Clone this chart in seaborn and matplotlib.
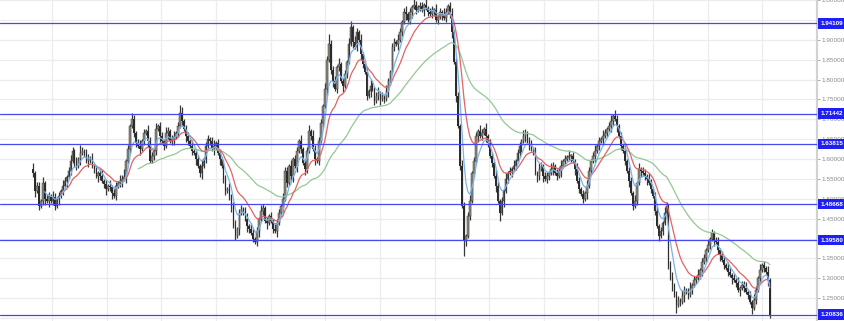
import numpy as np
import pandas as pd
import matplotlib
matplotlib.use("Agg")
import matplotlib.pyplot as plt
import seaborn as sns

# ---------------- data ----------------
first_open = 1.575
close = [
    1.565, 1.520, 1.5325, 1.4825, 1.495, 1.540, 1.500, 1.495, 1.5075, 1.495,
    1.505, 1.4825, 1.500, 1.5075, 1.520, 1.5325, 1.545, 1.555, 1.570, 1.595,
    1.620, 1.590, 1.5825, 1.600, 1.615, 1.620, 1.615, 1.595, 1.6025, 1.600,
    1.5825, 1.575, 1.5575, 1.565, 1.5575, 1.545, 1.5375, 1.525, 1.5325, 1.530,
    1.515, 1.5075, 1.5325, 1.540, 1.545, 1.550, 1.555, 1.595, 1.625, 1.6825,
    1.700, 1.665, 1.640, 1.6325, 1.625, 1.645, 1.665, 1.670, 1.645, 1.595,
    1.6075, 1.620, 1.675, 1.6825, 1.6575, 1.645, 1.6325, 1.665, 1.670, 1.645,
    1.650, 1.655, 1.665, 1.6825, 1.715, 1.695, 1.675, 1.6575, 1.645, 1.6325,
    1.620, 1.615, 1.600, 1.5825, 1.565, 1.5825, 1.600, 1.6325, 1.650, 1.645,
    1.625, 1.6325, 1.640, 1.615, 1.600, 1.5825, 1.550, 1.520, 1.525, 1.5075,
    1.4825, 1.4325, 1.4075, 1.425, 1.465, 1.475, 1.470, 1.450, 1.4325, 1.425,
    1.415, 1.400, 1.390, 1.420, 1.450, 1.470, 1.4775, 1.445, 1.440, 1.4575,
    1.445, 1.425, 1.420, 1.440, 1.465, 1.4825, 1.500, 1.570, 1.540, 1.5825,
    1.5575, 1.600, 1.5825, 1.620, 1.645, 1.625, 1.590, 1.575, 1.620, 1.670,
    1.6575, 1.625, 1.600, 1.595, 1.645, 1.690, 1.7325, 1.775, 1.850, 1.890,
    1.825, 1.795, 1.775, 1.8325, 1.840, 1.795, 1.7825, 1.815, 1.845, 1.890,
    1.9325, 1.895, 1.8825, 1.920, 1.900, 1.865, 1.840, 1.820, 1.7575, 1.770,
    1.7825, 1.775, 1.745, 1.7575, 1.765, 1.750, 1.7575, 1.750, 1.770, 1.795,
    1.820, 1.8825, 1.895, 1.890, 1.900, 1.920, 1.945, 1.970, 1.965, 1.950,
    1.970, 1.9825, 1.9875, 1.975, 1.9825, 1.985, 1.975, 1.9875, 1.980, 1.970,
    1.965, 1.975, 1.975, 1.950, 1.9575, 1.970, 1.965, 1.955, 1.970, 1.985,
    1.965, 1.920, 1.845, 1.7575, 1.6825, 1.5825, 1.4825, 1.395, 1.4075, 1.4575,
    1.495, 1.565, 1.595, 1.6575, 1.670, 1.6575, 1.665, 1.675, 1.6575, 1.640,
    1.6075, 1.590, 1.5575, 1.5325, 1.495, 1.465, 1.495, 1.520, 1.550, 1.565,
    1.570, 1.575, 1.5825, 1.595, 1.615, 1.6325, 1.645, 1.6575, 1.665, 1.645,
    1.6325, 1.625, 1.620, 1.565, 1.5575, 1.575, 1.5825, 1.5575, 1.550, 1.5575,
    1.565, 1.575, 1.5825, 1.565, 1.5575, 1.570, 1.5825, 1.595, 1.600, 1.605,
    1.6075, 1.6075, 1.595, 1.575, 1.545, 1.525, 1.5125, 1.500, 1.515, 1.5325,
    1.570, 1.595, 1.6075, 1.620, 1.6325, 1.645, 1.650, 1.6575, 1.665, 1.675,
    1.6825, 1.695, 1.7075, 1.700, 1.6825, 1.6575, 1.6325, 1.620, 1.595, 1.570,
    1.545, 1.515, 1.4825, 1.495, 1.540, 1.575, 1.570, 1.565, 1.5575, 1.550,
    1.540, 1.525, 1.5075, 1.470, 1.4325, 1.4075, 1.420, 1.440, 1.465, 1.4825,
    1.3325, 1.300, 1.2825, 1.2575, 1.2325, 1.245, 1.240, 1.255, 1.270, 1.265,
    1.2575, 1.275, 1.2825, 1.295, 1.300, 1.3075, 1.320, 1.340, 1.350, 1.370,
    1.3825, 1.400, 1.415, 1.395, 1.390, 1.370, 1.3575, 1.345, 1.3325, 1.325,
    1.315, 1.3075, 1.300, 1.295, 1.2875, 1.270, 1.275, 1.2825, 1.275, 1.265,
    1.2575, 1.240, 1.225, 1.245, 1.270, 1.300, 1.320, 1.3325, 1.325, 1.315,
    1.295, 1.205,
]
# upper / lower wick lengths, in steps of wick_step
wick_step = 0.005
up_wicks = (
    "31221312213212132123" "21314212213121231213" "12213241213212312132"
    "21312213212312431221" "31221312212312213213" "12312212313212132121"
    "21322132213122131223" "13212213252231312213" "31321312213212312132"
    "12213212312132122131" "22131213212312213212" "31221321312213212131"
    "21312213212312132122" "13212231213121321213" "21231213212313212131"
    "22131312213212312132" "12312213212312131221" "31212312213212131223"
    "121321312131"
)
down_wicks = (
    "23121231312213121312" "12213121321213212312" "31212313121221312131"
    "12213121312312121321" "21312312121321312212" "31213121321212312131"
    "12131231212313121321" "21312121312312213121" "13121321213121231213"
    "21213121312312121312" "12312131212313121831" "21213121321213141312"
    "13121231312121321312" "21312131212313121213" "12131213121321312121"
    "31212131231212131213" "21314121312131212312" "12131231212131213121"
    "213121312131"
)
levels = [1.94109, 1.71442, 1.63815, 1.48668, 1.39580, 1.20836]
yticks = [1.20, 1.25, 1.30, 1.35, 1.40, 1.45, 1.50, 1.55, 1.60, 1.65,
          1.70, 1.75, 1.80, 1.85, 1.90, 1.95, 2.00]
ma_fast, ma_mid, ma_slow = 6, 15, 53

# ---------------- frame ----------------
n = len(close)
df = pd.DataFrame({"bar": np.arange(n), "close": close})
df["open"] = [first_open] + close[:-1]
up = np.array([int(c) for c in up_wicks[:n]]) * wick_step
dn = np.array([int(c) for c in down_wicks[:n]]) * wick_step
df["high"] = np.maximum(df["open"], df["close"]) + up
df["low"] = np.minimum(df["open"], df["close"]) - dn
df["fast"] = df["close"].ewm(span=ma_fast, adjust=False).mean()
df["mid"] = df["close"].ewm(span=ma_mid, adjust=False).mean()
df["slow"] = df["close"].ewm(span=ma_slow, adjust=False).mean()
df.loc[df.index < ma_fast, "fast"] = np.nan
df.loc[df.index < ma_mid - 1, "mid"] = np.nan
df.loc[df.index < ma_slow, "slow"] = np.nan

sns.set_theme(style="white")
plt.rcParams["font.family"] = ["Liberation Sans", "DejaVu Sans"]
fig = plt.figure(figsize=(8.45, 3.21), dpi=100)
ax = fig.add_axes([0, 0, 817 / 845, 1])

# pixel layout: first bar at 33px, last bar at 775px, axes 817px wide
step = 742 / (n - 1)
x0 = -33 / step
ax.set_xlim(x0, x0 + 817 / step)
ax.set_ylim(1.1925, 1.995)

# grid
ax.set_xticks([(52.5 + 55 * k - 33) / step for k in range(15)])
ax.set_yticks(yticks)
ax.grid(True, color="#ececec", lw=0.9)
ax.set_axisbelow(True)

# candles
rise = df["close"] >= df["open"]
ax.vlines(df["bar"], df["low"], df["high"], color="#383838", lw=0.9, zorder=2)
ax.bar(df.loc[rise, "bar"], (df["close"] - df["open"])[rise].clip(lower=0.002),
       bottom=df.loc[rise, "open"], width=0.85, color="#8c8c80",
       edgecolor="#383838", linewidth=0.35, zorder=3)
ax.bar(df.loc[~rise, "bar"], (df["open"] - df["close"])[~rise].clip(lower=0.002),
       bottom=df.loc[~rise, "close"], width=0.85, color="#2b2b2b",
       linewidth=0, zorder=3)

# moving averages
sns.lineplot(data=df, x="bar", y="slow", color="#94c894", lw=0.9, ax=ax, zorder=4)
sns.lineplot(data=df, x="bar", y="mid", color="#e26464", lw=0.9, ax=ax, zorder=5)
sns.lineplot(data=df, x="bar", y="fast", color="#7cb2ee", lw=0.9, ax=ax, zorder=6)

# horizontal levels
for lv in levels:
    ax.axhline(lv, color="#4646f5", lw=0.9, zorder=7)

# axis styling
ax.set_xlabel("")
ax.set_ylabel("")
ax.tick_params(axis="x", bottom=False, labelbottom=False)
ax.yaxis.tick_right()
ax.tick_params(axis="y", right=True, length=2, width=0.6, colors="#9a9a9a",
               labelsize=4.6, labelcolor="#8a8a8a", pad=1.5)
ax.set_yticklabels([f"{v:.5f}" for v in yticks])
for s in ["left", "top", "bottom"]:
    ax.spines[s].set_visible(False)
ax.spines["right"].set_color("#d2d2d2")
ax.spines["right"].set_linewidth(1.6)

tr = ax.get_yaxis_transform()
for lv in levels:
    ax.text(1.0045, lv, f"{lv:.5f}", transform=tr, ha="left", va="center",
            fontsize=4.5, color="white", fontweight="bold", clip_on=False,
            zorder=10,
            bbox=dict(boxstyle="square,pad=0.45", facecolor="#1f1ff5",
                      edgecolor="none"))

fig.savefig("out.png", dpi=100)
